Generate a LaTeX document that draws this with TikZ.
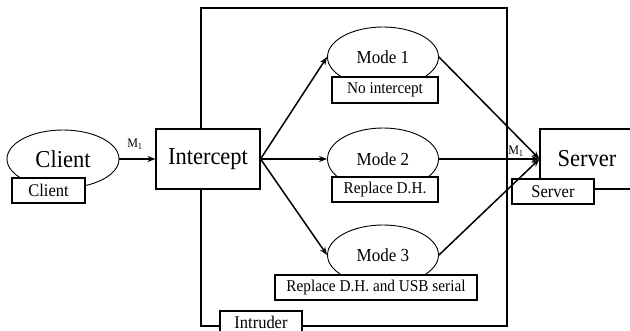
\documentclass[tikz,border=0pt]{standalone}
\usepackage{fontspec}
% slightly condensed serif so that the glyphs come out a little taller than wide
\setmainfont[FakeStretch=0.926]{Liberation Serif}
\usetikzlibrary{shapes.geometric,arrows.meta}
\begin{document}
\begin{tikzpicture}[x=1pt,y=-1pt,
  bigtext/.style={font=\fontsize{24.3}{28}\selectfont},
  labeltext/.style={font=\fontsize{17.8}{20}\selectfont},
  modetext/.style={font=\fontsize{18.4}{21}\selectfont},
  tagtext/.style={font=\fontsize{16.5}{19}\selectfont},
  oval/.style={ellipse, draw, line width=0.9pt, inner sep=0pt, fill=white},
  box/.style={rectangle, draw, line width=1.1pt, inner sep=0pt, fill=white},
  flow/.style={line width=1.5pt, -{Stealth[length=8pt,width=6pt]}},
  msg/.style={font=\fontsize{13}{15}\selectfont, inner sep=0pt}
]
\useasboundingbox (0,0) rectangle (630,331);

% intruder frame
\draw[line width=2pt] (201,8) rectangle (507,326);

% client side
\node[oval, bigtext, minimum width=112pt, minimum height=58pt] (client) at (63,159) {Client};
\node[box, labeltext, minimum width=73pt, minimum height=25pt] (clientlbl) at (48.5,190.5) {Client};
\node[box, bigtext, minimum width=104pt, minimum height=60pt] (icpt) at (208,159) {Intercept};

% the three modes
\node[oval, modetext, minimum width=111pt, minimum height=60pt] (m1) at (383,57) {Mode 1};
\node[box, tagtext, minimum width=106pt, minimum height=26pt] (m1lbl) at (385,90) {No intercept};
\node[oval, modetext, minimum width=111pt, minimum height=62pt] (m2) at (383,159) {Mode 2};
\node[box, tagtext, minimum width=106pt, minimum height=25pt] (m2lbl) at (385,189.5) {Replace D.H.};
\node[oval, modetext, minimum width=111pt, minimum height=60pt] (m3) at (383,255) {Mode 3};
\node[box, tagtext, minimum width=202pt, minimum height=25pt] (m3lbl) at (376,287.5) {Replace D.H. and USB serial};

% server side
\node[box, bigtext, minimum width=94pt, minimum height=60pt] (server) at (587,159) {Server};
\node[box, labeltext, minimum width=82pt, minimum height=25pt] (serverlbl) at (553,191.5) {Server};

% intruder tag on the frame (box runs past the lower edge, text kept inside)
\node[box, minimum width=82pt, minimum height=26pt] (intruderbox) at (261,324) {};
\node[labeltext, inner sep=0.5pt, text depth=0pt] (intruder) at (261,322) {Intruder};

% message flow
\draw[flow] (client.east) -- (icpt.west);
\draw[flow] (icpt.east) -- (m1.west);
\draw[flow] (icpt.east) -- (m2.west);
\draw[flow] (icpt.east) -- (m3.west);
\draw[flow] (m1.east) -- (server.west);
\draw[flow] (m2.east) -- (server.west);
\draw[flow] (m3.east) -- (server.west);

% message labels
\node[msg] (msgin) at (135,144) {M\textsubscript{1}};
\node[msg] (msgout) at (516,151) {M\textsubscript{1}};
\end{tikzpicture}
\end{document}
